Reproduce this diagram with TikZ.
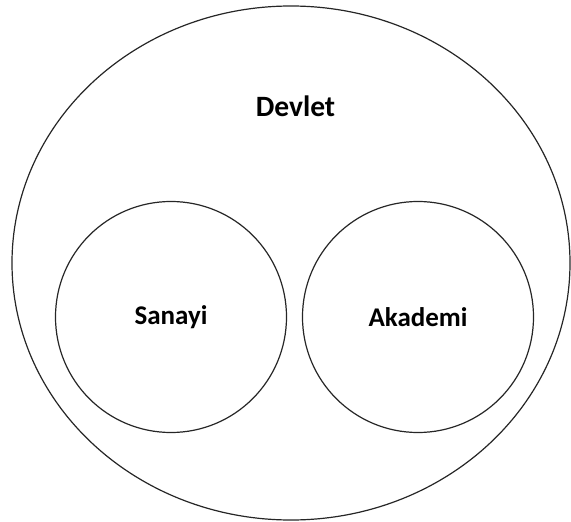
\documentclass[tikz,border=0pt]{standalone}
\usepackage{fontspec}
\setmainfont{Carlito}
\usetikzlibrary{shapes.geometric}
\tikzstyle{whole} = [ellipse, 
minimum width=558pt, 
minimum height=514pt, 
draw=black!85, 
line width=1.2pt]
\tikzstyle{part} = [circle, 
minimum size=231pt, 
text centered, 
draw=black!85, 
line width=1.2pt, 
font=\fontsize{27}{32}\selectfont\bfseries]
\tikzstyle{title} = [font=\fontsize{29.5}{35}\selectfont\bfseries]

\begin{document}
\begin{tikzpicture}[x=1pt, y=-1pt]
\useasboundingbox (0,0) rectangle (571,522);

\node (devlet) [whole] at (291,263) {};
\node (devlettitle) [title] at (295.5,106) {Devlet};
\node (sanayi) [part] at (171,317) {Sanayi};
\node (akademi) [part, right of=sanayi, node distance=247pt] {Akademi};

\end{tikzpicture}
\end{document}
